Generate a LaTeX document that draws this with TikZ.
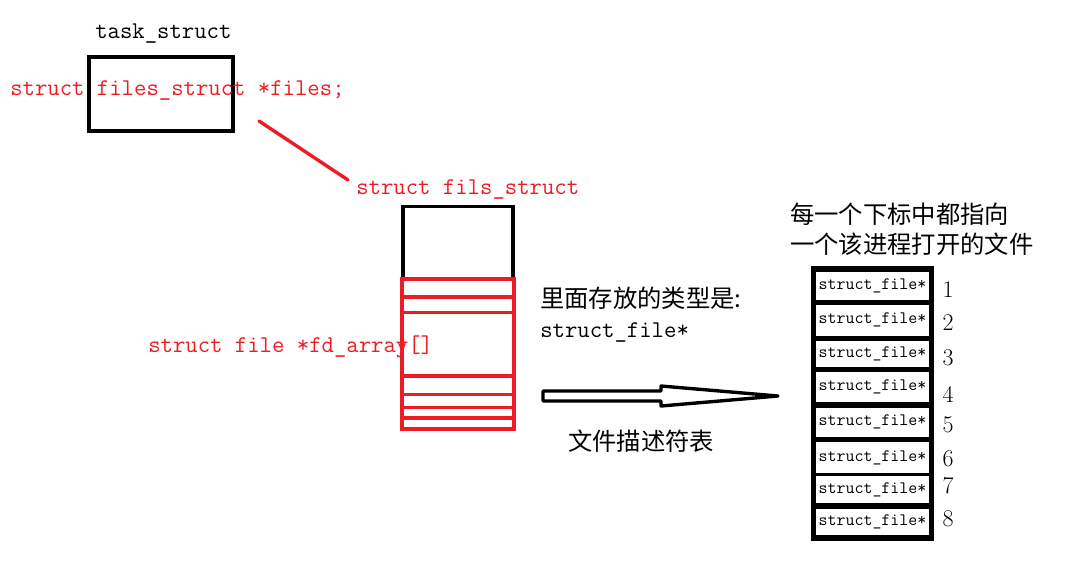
\documentclass[tikz,border=0pt]{standalone}
\usepackage{fontspec}
\newfontfamily\cjk{Noto Sans CJK SC}
\usepackage{xcolor}
\usepackage{tikz}
\usetikzlibrary{positioning}
\definecolor{pred}{HTML}{ED1C24}
\tikzstyle{monotext} = [inner sep=0pt, font=\fontsize{17.1}{19}\selectfont\ttfamily]
\tikzstyle{redtext} = [monotext, text=pred]
\tikzstyle{cntext} = [inner sep=0pt, font=\fontsize{17.3}{20}\selectfont\cjk]
\tikzstyle{numtext} = [inner sep=0pt, font=\fontsize{17}{19}\selectfont]
\tikzstyle{blackbox} = [rectangle, draw, line width=2.8pt]
\tikzstyle{redbox} = [rectangle, draw=pred, line width=2.8pt]
\tikzstyle{redline} = [draw=pred, line width=2.8pt]
\tikzstyle{pointer} = [draw=pred, line width=2.4pt, line cap=round]
\tikzstyle{hollowarrow} = [draw, line width=2.4pt, line join=round]
\tikzstyle{tablebox} = [rectangle, fill=black, inner sep=0pt]
\tikzstyle{cellbox} = [rectangle, fill=white, inner sep=0pt, minimum width=2.825cm,
                       font=\fontsize{12.4}{14}\selectfont\ttfamily]

\begin{document}
\begin{tikzpicture}[x=0.025cm, y=-0.025cm]
\useasboundingbox (0,0) rectangle (1084,567);
% task_struct
\node [monotext, anchor=base west] (task_title) at (95,38) {task\_struct};
\node [blackbox, minimum width=3.6cm, minimum height=1.85cm] (task_box) at (161,94) {};
\node [redtext, anchor=base west] (files_ptr) at (10,95) {struct files\_struct *files;};
% files_struct
\coordinate (ptr_start) at (259,121);
\coordinate (ptr_end) at (348,180);
\draw [pointer] (ptr_start) -- (ptr_end);
\node [redtext, anchor=base west] (fils_title) at (356,194.5) {struct fils\_struct};
\node [blackbox, minimum width=2.75cm, minimum height=5.56cm] (fils_box) at (458,317.75) {};
\node [redbox, fill=white, minimum width=2.8cm, minimum height=3.75cm] (fd_array) at (458,354) {};
\foreach \y in {297,312.5,376,394.5,407.5,418.3}
	\draw [redline] (fd_array.west |- 0,\y) -- (fd_array.east |- 0,\y);
\node [redtext, anchor=base west] (fd_label) at (148,352) {struct file *fd\_array[]};
% type note
\node [cntext, anchor=base west] (type_note) at (540,307) {里面存放的类型是:};
\node [monotext, anchor=base west] (type_name) at (540,337) {struct\_file*};
% arrow
\coordinate (arrow_tail) at (543,396);
\coordinate (arrow_tip) at (778,396);
\draw [hollowarrow] (arrow_tail) ++(0,-5) -- ++(118,0) -- ++(0,-5) -- (arrow_tip)
	-- ++(-117,10) -- ++(0,-5) -- ++(-118,0) -- cycle;
\node [cntext, anchor=base west] (table_name) at (568,450) {文件描述符表};
% fd table
\node [cntext, anchor=base west] (index_note1) at (790,223) {每一个下标中都指向};
\node [cntext, anchor=base west] (index_note2) at (790,253) {一个该进程打开的文件};
\node [tablebox, minimum width=3.075cm, minimum height=6.87cm] (fd_table) at (872.5,403.4) {};
\foreach \i/\y/\h/\ny in {1/285.9/28.3/290, 2/320.3/30.7/322.5, 3/353.8/25.7/357.5,
	4/386.8/30.3/394, 5/422.3/28.7/425, 6/457.5/31/459, 7/489.5/27/486, 8/522/26/519}
{
	\node [cellbox, minimum height=\h*0.025cm] (cell\i) at (872.5,\y) {struct\_file*};
	\node [numtext] (num\i) at (948,\ny) {\i};
}
\end{tikzpicture}
\end{document}
